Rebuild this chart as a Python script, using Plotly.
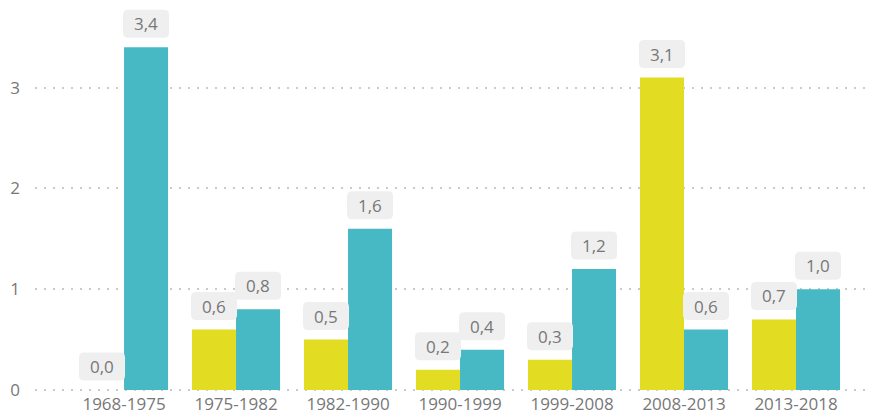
import plotly.graph_objects as go

categories = ["1968-1975", "1975-1982", "1982-1990", "1990-1999", "1999-2008", "2008-2013", "2013-2018"]
serie_a = [0.0, 0.6, 0.5, 0.2, 0.3, 3.1, 0.7]
serie_b = [3.4, 0.8, 1.6, 0.4, 1.2, 0.6, 1.0]
y_ticks = [0, 1, 2, 3]

COL_A = "#E2DC22"
COL_B = "#47B9C5"
TXT = "#777777"
FONT = "Open Sans"
BARGAP = 0.214

fig = go.Figure()
fig.add_trace(go.Bar(x=categories, y=serie_a, name="A", marker=dict(color=COL_A, line=dict(width=0))))
fig.add_trace(go.Bar(x=categories, y=serie_b, name="B", marker=dict(color=COL_B, line=dict(width=0))))

def fmt(v):
    return f"{v:.1f}".replace(".", ",")

off = (1 - BARGAP) / 4
shapes = []
annotations = []
r = 5
w2 = 23
y0, y1 = 9.5, 37.5
path = (f"M {-w2 + r},{y0} L {w2 - r},{y0} Q {w2},{y0} {w2},{y0 + r} "
        f"L {w2},{y1 - r} Q {w2},{y1} {w2 - r},{y1} L {-w2 + r},{y1} "
        f"Q {-w2},{y1} {-w2},{y1 - r} L {-w2},{y0 + r} Q {-w2},{y0} {-w2 + r},{y0} Z")
for series, sign in ((serie_a, -1), (serie_b, 1)):
    for i, v in enumerate(series):
        xc = i + sign * off
        shapes.append(dict(type="path", xref="x", yref="y", xsizemode="pixel", ysizemode="pixel",
                           xanchor=xc, yanchor=v, path=path, fillcolor="#EFEFEF",
                           line=dict(width=0), layer="above"))
        annotations.append(dict(x=xc, y=v, xref="x", yref="y", text=fmt(v), showarrow=False,
                                yshift=(y0 + y1) / 2, yanchor="middle", xanchor="center",
                                font=dict(family=FONT, size=17, color=TXT)))

fig.update_layout(
    width=870, height=417, autosize=False,
    margin=dict(l=35, r=5, t=7, b=25),
    paper_bgcolor="white", plot_bgcolor="white",
    barmode="group", bargap=BARGAP, bargroupgap=0,
    showlegend=False,
    shapes=shapes, annotations=annotations,
    font=dict(family=FONT, size=17, color=TXT),
)
fig.update_xaxes(
    type="category", range=[-0.795, 6.616], showgrid=False, zeroline=False, showline=False,
    ticks="", tickfont=dict(family=FONT, size=17, color=TXT), automargin=False,
)
fig.update_yaxes(
    range=[-0.02, 3.8], tickvals=y_ticks, ticktext=[str(t) for t in y_ticks],
    showgrid=True, gridcolor="#CACACA", gridwidth=1.5, griddash="2px,7px",
    zeroline=False, showline=False, ticks="", ticklabelstandoff=14, automargin=False,
    tickfont=dict(family=FONT, size=17, color=TXT),
)

fig.write_html("out.html", config={"displayModeBar": False},
               post_script="document.body.style.margin='0';document.body.style.overflow='hidden';")
